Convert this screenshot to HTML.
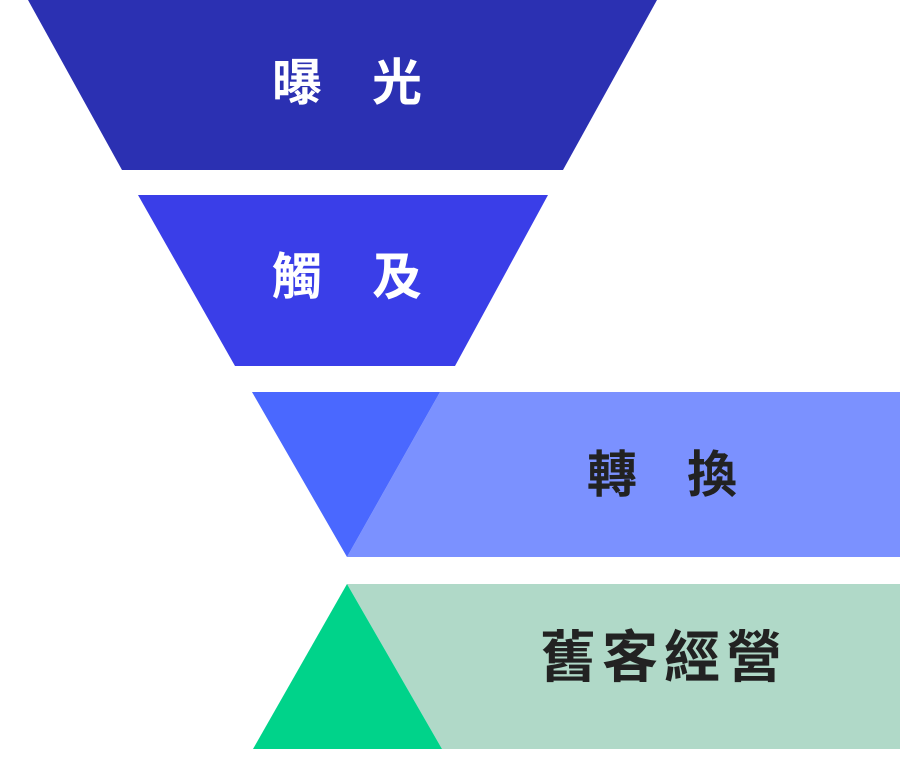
<!DOCTYPE html>
<html><head><meta charset="utf-8"><style>
body{margin:0;width:900px;height:765px;background:#fff;position:relative;overflow:hidden;font-family:"Liberation Sans","Noto Sans CJK TC",sans-serif;font-weight:bold}
.t{position:absolute;line-height:1;white-space:nowrap}
</style></head><body>
<svg width="900" height="765" style="position:absolute;left:0;top:0">
<polygon points="28,0 657,0 563,170 122,170" fill="#2b30b2"/>
<polygon points="138,195 548,195 455,366 235,366" fill="#3a3ee8"/>
<polygon points="440,392 900,392 900,557 347,557" fill="#7b91ff"/>
<polygon points="252,392 440,392 347,557" fill="#4a68ff"/>
<polygon points="347,584 900,584 900,749 442,749" fill="#b0d9c8"/>
<polygon points="347,584 442,749 253,749" fill="#00d38a"/>
</svg>
<div class="t" style="left:272px;top:58px;font-size:50px;color:#fff;letter-spacing:50px">曝光</div>
<div class="t" style="left:272px;top:252px;font-size:50px;color:#fff;letter-spacing:50px">觸及</div>
<div class="t" style="left:587px;top:450px;font-size:50px;color:#222;letter-spacing:50px">轉換</div>
<div class="t" style="left:540px;top:630px;font-size:56px;color:#222;letter-spacing:6px">舊客經營</div>
</body></html>
